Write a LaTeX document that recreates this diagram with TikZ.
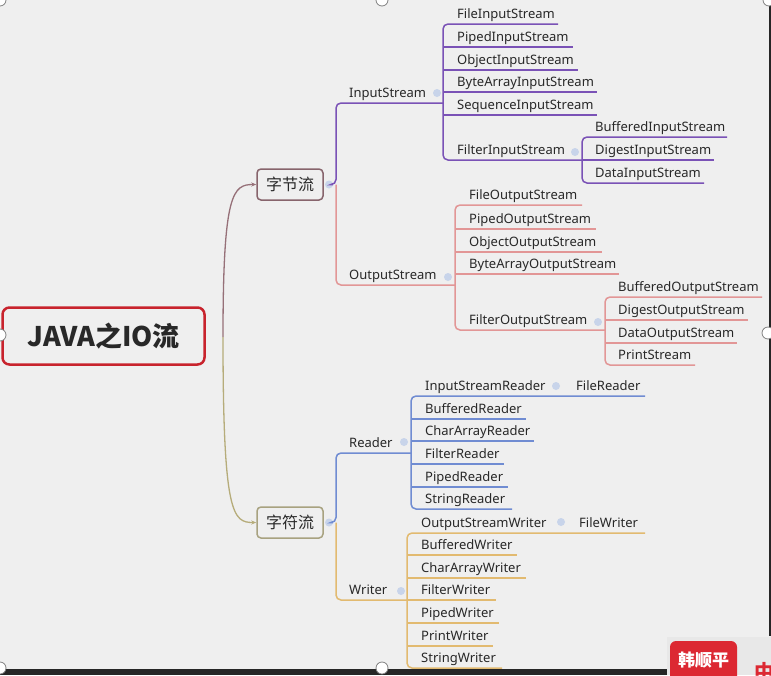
\documentclass[tikz,border=0pt]{standalone}
\usepackage{fontspec}
\setmainfont{Noto Sans}
\newfontfamily\cjk{Noto Sans CJK SC}
\usetikzlibrary{arrows.meta}
\definecolor{bg}{RGB}{239,239,239}
\definecolor{txt}{RGB}{40,40,40}
\definecolor{rootred}{RGB}{200,35,45}
\definecolor{byteb}{RGB}{135,100,108}
\definecolor{charb}{RGB}{168,162,128}
\definecolor{curveu}{RGB}{150,112,120}
\definecolor{curved}{RGB}{182,172,122}
\definecolor{purp}{RGB}{122,82,182}
\definecolor{pinkl}{RGB}{226,150,150}
\definecolor{bluel}{RGB}{112,140,210}
\definecolor{orgl}{RGB}{226,186,112}
\definecolor{dotc}{RGB}{200,212,234}
\definecolor{darkbar}{RGB}{38,38,38}
\definecolor{badgered}{RGB}{220,40,50}
\begin{document}
\begin{tikzpicture}[x=1pt,y=-1pt,
  lbl/.style={anchor=base west,inner sep=0pt,text=txt,font=\fontsize{13}{15}\selectfont},
  rootbox/.style={draw=rootred,line width=2.5pt,rounded corners=7pt,fill=bg,
     minimum width=202pt,minimum height=57pt,text=txt,font=\cjk\bfseries\fontsize{27}{30}\selectfont},
  subbox/.style={line width=1.5pt,rounded corners=4pt,fill=bg,
     minimum width=66pt,minimum height=31pt,inner sep=0pt,text=txt,font=\cjk\fontsize{16}{18}\selectfont},
  br/.style={line width=1.5pt,rounded corners=5pt},
  fold/.style={circle,fill=dotc,minimum size=8pt,inner sep=0pt},
  handle/.style={circle,draw=gray,fill=white,line width=0.8pt,minimum size=12pt,inner sep=0pt}]
\useasboundingbox (0,0) rectangle (771,675);
\clip (0,0) rectangle (771,675);
\fill[bg] (0,0) rectangle (771,675);

% root and main branches
\node[rootbox] (root) at (103.5,336) {JAVA之IO流};
\node[subbox,draw=byteb] (byte) at (290,184.5) {字节流};
\node[subbox,draw=charb] (char) at (290,522.5) {字符流};
\coordinate (fork) at (223,337);
\draw[curveu,line width=1.3pt,-{Stealth[length=5pt,width=4pt]}] (fork) .. controls (223,192) and (233,184.5) .. (byte.west);
\draw[curved,line width=1.3pt,-{Stealth[length=5pt,width=4pt]}] (fork) .. controls (223,516) and (233,522.5) .. (char.west);
\node[fold] (fb) at (329,184.5) {};
\node[fold] (fc) at (329,522.5) {};

% ---------- InputStream ----------
\draw[purp,br] (fb.east) -- (336,184.5) -- (336,103) -- (443,103);
\node[lbl] (is) at (349,97) {InputStream};
\node[fold] (fis) at (437,93) {};
\draw[purp,br] (558,24) -- (443,24) -- (443,160) -- (582,160);
\draw[purp,line width=1.5pt] (443,47) -- (573,47) (443,70) -- (578,70) (443,92) -- (597,92) (443,115) -- (597,115);
\node[lbl] (fis1) at (457,18) {FileInputStream};
\node[lbl] (pis) at (457,41) {PipedInputStream};
\node[lbl] (ois) at (457,64) {ObjectInputStream};
\node[lbl] (bais) at (457,86) {ByteArrayInputStream};
\node[lbl] (sis) at (457,109) {SequenceInputStream};
\node[lbl] (filis) at (457,154) {FilterInputStream};
\node[fold] (ffis) at (575,152) {};
\draw[purp,br] (727,137) -- (582,137) -- (582,183) -- (704,183);
\draw[purp,line width=1.5pt] (582,160) -- (714,160);
\node[lbl] (bis) at (595,131) {BufferedInputStream};
\node[lbl] (dis) at (595,154) {DigestInputStream};
\node[lbl] (datis) at (595,177) {DataInputStream};

% ---------- OutputStream ----------
\draw[pinkl,br] (336,184.5) -- (336,285) -- (455,285);
\node[lbl] (os) at (349,279) {OutputStream};
\node[fold] (fos) at (448,277) {};
\draw[pinkl,br] (582,205) -- (455,205) -- (455,330) -- (605,330);
\draw[pinkl,line width=1.5pt] (455,229) -- (596,229) (455,252) -- (602,252) (455,274) -- (619,274);
\node[lbl] (fos1) at (469,199) {FileOutputStream};
\node[lbl] (pos) at (469,223) {PipedOutputStream};
\node[lbl] (oos) at (469,246) {ObjectOutputStream};
\node[lbl] (baos) at (469,268) {ByteArrayOutputStream};
\node[lbl] (filos) at (469,324) {FilterOutputStream};
\node[fold] (ffos) at (598,322) {};
\draw[pinkl,br] (762,297) -- (605,297) -- (605,365) -- (695,365);
\draw[pinkl,line width=1.5pt] (605,320) -- (748,320) (605,343) -- (737,343);
\node[lbl] (bos) at (618,291) {BufferedOutputStream};
\node[lbl] (dos) at (618,314) {DigestOutputStream};
\node[lbl] (datos) at (618,337) {DataOutputStream};
\node[lbl] (ps) at (618,359) {PrintStream};

% ---------- Reader ----------
\draw[bluel,br] (fc.east) -- (336,522.5) -- (336,453) -- (411,453);
\node[lbl] (rd) at (349,447) {Reader};
\node[fold] (frd) at (404,442) {};
\draw[bluel,br] (645,396) -- (411,396) -- (411,509) -- (512,509);
\draw[bluel,line width=1.5pt] (411,419) -- (526,419) (411,441) -- (534,441) (411,464) -- (504,464) (411,487) -- (508,487);
\node[lbl] (isr) at (425,390) {InputStreamReader};
\node[fold] (fisr) at (556,386) {};
\node[lbl] (fr) at (576,390) {FileReader};
\node[lbl] (brd) at (425,413) {BufferedReader};
\node[lbl] (card) at (425,435) {CharArrayReader};
\node[lbl] (frd2) at (425,458) {FilterReader};
\node[lbl] (prd) at (425,481) {PipedReader};
\node[lbl] (srd) at (425,503) {StringReader};

% ---------- Writer ----------
\draw[orgl,br] (336,522.5) -- (336,600) -- (407,600);
\node[lbl] (wr) at (349,594) {Writer};
\node[fold] (fwr) at (401,591) {};
\draw[orgl,br] (645,533) -- (407,533) -- (407,668) -- (502,668);
\draw[orgl,line width=1.5pt] (407,555) -- (517,555) (407,578) -- (526,578) (407,600) -- (496,600) (407,623) -- (499,623) (407,646) -- (493,646);
\node[lbl] (osw) at (421,527) {OutputStreamWriter};
\node[fold] (fosw) at (561,522) {};
\node[lbl] (fw) at (579,527) {FileWriter};
\node[lbl] (bw) at (421,549) {BufferedWriter};
\node[lbl] (caw) at (421,572) {CharArrayWriter};
\node[lbl] (fiw) at (421,594) {FilterWriter};
\node[lbl] (pw) at (421,617) {PipedWriter};
\node[lbl] (prw) at (421,640) {PrintWriter};
\node[lbl] (sw) at (421,662) {StringWriter};

% ---------- screen capture frame ----------
\fill[darkbar] (0,669) rectangle (667,675);
\draw[darkbar,line width=1.5pt] (770,0) -- (770,636);
\fill[black!9] (667,637) rectangle (771,675);
\fill[badgered,rounded corners=6pt] (670,641) rectangle (737,690);
\node[text=white,font=\cjk\bfseries\fontsize{17}{19}\selectfont,inner sep=0pt] (badge) at (703.5,660) {韩顺平};
\node[text=badgered,font=\cjk\bfseries\fontsize{20}{22}\selectfont,inner sep=0pt,anchor=west] (zh) at (754,672) {中};
\node[handle] (h1) at (0,0) {};
\node[handle] (h2) at (382,0) {};
\node[handle] (h3) at (769,0) {};
\node[handle] (h4) at (0,335) {};
\node[handle] (h5) at (768,333) {};
\node[handle] (h6) at (0,668) {};
\node[handle] (h7) at (382,668) {};
\end{tikzpicture}
\end{document}
